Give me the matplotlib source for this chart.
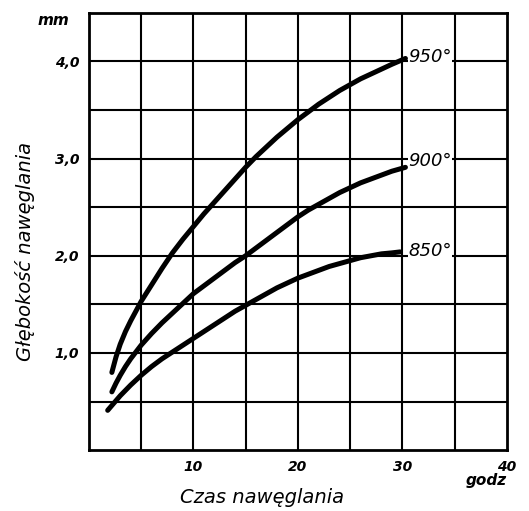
import numpy as np
import matplotlib.pyplot as plt

# values (hours, mm)
t950 = [2.2, 2.6, 3.0, 3.5, 4, 5, 6, 7, 8, 9, 10, 11, 12, 13, 14, 15,
        16, 17, 18, 19, 20, 21, 22, 23, 24, 25, 26, 27, 28, 29, 30.3]
d950 = [0.80, 0.96, 1.09, 1.22, 1.33, 1.53, 1.70, 1.87, 2.03, 2.17, 2.30,
        2.43, 2.55, 2.67, 2.79, 2.91, 3.02, 3.12, 3.22, 3.31, 3.40, 3.48,
        3.56, 3.63, 3.70, 3.76, 3.82, 3.87, 3.92, 3.97, 4.03]

t900 = [2.2, 2.6, 3.0, 3.5, 4, 5, 6, 7, 8, 9, 10, 11, 12, 13, 14, 15,
        16, 17, 18, 19, 20, 21, 22, 23, 24, 25, 26, 27, 28, 29, 30.3]
d900 = [0.60, 0.69, 0.77, 0.86, 0.94, 1.08, 1.20, 1.31, 1.41, 1.51,
        1.61, 1.69, 1.77, 1.85, 1.93, 2.00, 2.08, 2.16, 2.24, 2.32, 2.40,
        2.47, 2.53, 2.59, 2.65, 2.70, 2.75, 2.79, 2.83, 2.87, 2.91]

t850 = [1.8, 2.2, 2.6, 3, 4, 5, 6, 7, 8, 9, 10, 11, 12, 13, 14, 15,
        16, 17, 18, 19, 20, 21, 22, 23, 24, 25, 26, 27, 28, 29, 29.8]
d850 = [0.41, 0.46, 0.51, 0.56, 0.67, 0.77, 0.86, 0.94, 1.01, 1.08, 1.15,
        1.22, 1.29, 1.36, 1.43, 1.49, 1.55, 1.61, 1.67, 1.72, 1.77, 1.81,
        1.85, 1.89, 1.92, 1.95, 1.98, 2.00, 2.02, 2.03, 2.04]

labels = ['950°', '900°', '850°']
label_y = [4.05, 2.98, 2.05]
xticks = [10, 20, 30, 40]
yticks = [1.0, 2.0, 3.0, 4.0]
ytick_labels = ['1,0', '2,0', '3,0', '4,0']

font = dict(family='DejaVu Sans', style='italic', weight='bold')

fig = plt.figure(figsize=(5.29, 5.11), dpi=100)
ax = fig.add_axes([0.168, 0.119, 0.79, 0.856])

ax.set_xlim(0, 40)
ax.set_ylim(0, 4.5)

# grid every 5 h and 0.5 mm
for gx in np.arange(5, 40, 5):
    ax.axvline(gx, color='black', lw=1.5, zorder=1)
for gy in np.arange(0.5, 4.5, 0.5):
    ax.axhline(gy, color='black', lw=1.5, zorder=1)
for s in ax.spines.values():
    s.set_linewidth(2.0)

for t, d, lab, ly in zip([t950, t900, t850], [d950, d900, d850], labels, label_y):
    ax.plot(t, d, color='black', lw=3.6, solid_capstyle='round',
            solid_joinstyle='round', zorder=3)
    ax.text(30.6, ly, lab, fontsize=13, style='italic',
            ha='left', va='center', zorder=4,
            bbox=dict(facecolor='white', edgecolor='none', pad=0.3))

ax.set_xticks(xticks)
ax.set_xticklabels([str(v) for v in xticks], fontsize=10, **font)
ax.set_yticks(yticks)
ax.set_yticklabels(ytick_labels, fontsize=10, **font)
ax.tick_params(length=0, pad=7)

ax.text(-0.086, 0.982, 'mm', transform=ax.transAxes, ha='center', va='center',
        fontsize=11, **font)
ax.text(0.952, -0.07, 'godz', transform=ax.transAxes, ha='center', va='center',
        fontsize=11, **font)

ax.set_xlabel('Czas nawęglania', fontsize=14, style='italic', labelpad=10,
              x=0.414)
ax.set_ylabel('Głębokość nawęglania', fontsize=14, style='italic', labelpad=14,
              y=0.455)

fig.savefig('out.png', dpi=100)
